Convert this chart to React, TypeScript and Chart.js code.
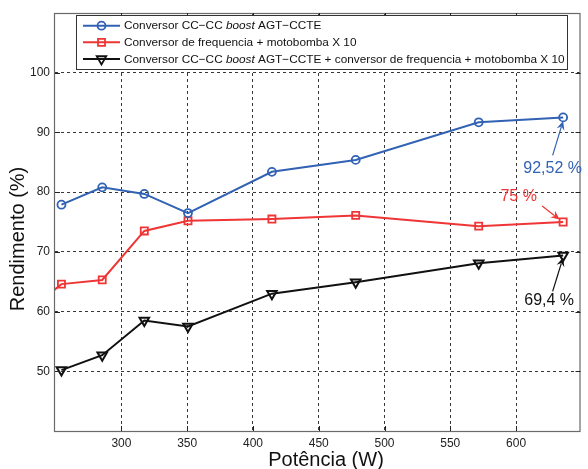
import React, { useEffect, useRef } from "react";
import { Chart, registerables } from "chart.js";

Chart.register(...registerables);

// ---- data ----
const potencia = [254.4, 285.4, 317.4, 350.6, 414.4, 478.1, 571.6, 635.8];
const potenciaConversor = [240, 254.4, 285.4, 317.4, 350.6, 414.4, 478.1, 571.6, 635.8];
const rendBoost = [77.9, 80.8, 79.7, 76.5, 83.4, 85.4, 91.7, 92.52];
const rendConversor = [62.0, 64.6, 65.3, 73.5, 75.2, 75.5, 76.1, 74.3, 75.0];
const rendTotal = [50.2, 52.7, 58.5, 57.5, 63.0, 64.9, 68.1, 69.4];

const xTicks = [300, 350, 400, 450, 500, 550, 600];
const yTicks = [50, 60, 70, 80, 90, 100];

const legendLabels = [
  ["Conversor CC\u2212CC ", "boost", " AGT\u2212CCTE"],
  ["Conversor de frequencia + motobomba X 10", "", ""],
  ["Conversor CC\u2212CC ", "boost", " AGT\u2212CCTE + conversor de frequencia + motobomba X 10"],
];
const annotationTexts = ["92,52 %", "75 %", "69,4 %"];

const BLUE = "#3262b4";
const RED = "#ef3535";
const BLACK = "#111111";
const FONT = "'Liberation Sans', Arial, Helvetica, sans-serif";

function drawMarker(ctx: CanvasRenderingContext2D, kind: string, x: number, y: number, color: string) {
  ctx.save();
  ctx.strokeStyle = color;
  ctx.lineWidth = 1.8;
  ctx.beginPath();
  if (kind === "circle") {
    ctx.arc(x, y, 4, 0, Math.PI * 2);
  } else if (kind === "rect") {
    ctx.rect(x - 3.5, y - 3.5, 7, 7);
  } else {
    const r = 5.5;
    ctx.moveTo(x, y + r);
    ctx.lineTo(x - r * 0.866, y - r * 0.5);
    ctx.lineTo(x + r * 0.866, y - r * 0.5);
    ctx.closePath();
  }
  ctx.stroke();
  ctx.restore();
}

function drawArrow(ctx: CanvasRenderingContext2D, x1: number, y1: number, x2: number, y2: number, color: string) {
  const ang = Math.atan2(y2 - y1, x2 - x1);
  const len = 9;
  const half = 4;
  ctx.save();
  ctx.strokeStyle = color;
  ctx.fillStyle = color;
  ctx.lineWidth = 1.2;
  ctx.beginPath();
  ctx.moveTo(x1, y1);
  ctx.lineTo(x2 - Math.cos(ang) * len * 0.7, y2 - Math.sin(ang) * len * 0.7);
  ctx.stroke();
  const bx = x2 - Math.cos(ang) * len;
  const by = y2 - Math.sin(ang) * len;
  const nx = -Math.sin(ang);
  const ny = Math.cos(ang);
  const mx = x2 - Math.cos(ang) * len * 0.65;
  const my = y2 - Math.sin(ang) * len * 0.65;
  ctx.beginPath();
  ctx.moveTo(x2, y2);
  ctx.lineTo(bx + nx * half, by + ny * half);
  ctx.lineTo(mx, my);
  ctx.lineTo(bx - nx * half, by - ny * half);
  ctx.closePath();
  ctx.fill();
  ctx.restore();
}

const overlayPlugin = {
  id: "overlay",
  afterDraw(chart: any) {
    const ctx: CanvasRenderingContext2D = chart.ctx;
    const { left, right, top, bottom } = chart.chartArea;
    const xs = chart.scales.x;
    const ys = chart.scales.y;

    // frame
    ctx.save();
    ctx.strokeStyle = "#6a6a6a";
    ctx.lineWidth = 1.2;
    ctx.strokeRect(left - 0.5, top + 0.5, right - left, bottom - top);
    // inward ticks
    ctx.strokeStyle = "#222";
    ctx.lineWidth = 1;
    ctx.beginPath();
    xTicks.forEach((v) => {
      const px = Math.round(xs.getPixelForValue(v)) + 0.5;
      ctx.moveTo(px, top);
      ctx.lineTo(px, top + 5);
      ctx.moveTo(px, bottom);
      ctx.lineTo(px, bottom - 5);
    });
    yTicks.forEach((v) => {
      const py = Math.round(ys.getPixelForValue(v)) + 0.5;
      ctx.moveTo(left, py);
      ctx.lineTo(left + 5, py);
      ctx.moveTo(right, py);
      ctx.lineTo(right - 5, py);
    });
    ctx.stroke();
    ctx.restore();

    // annotations
    const n = potencia.length - 1;
    const lx = xs.getPixelForValue(potencia[n]);
    const pB = ys.getPixelForValue(rendBoost[n]);
    const pR = ys.getPixelForValue(rendConversor[rendConversor.length - 1]);
    const pK = ys.getPixelForValue(rendTotal[n]);
    ctx.save();
    ctx.font = `16px ${FONT}`;
    ctx.textAlign = "center";
    ctx.textBaseline = "middle";
    ctx.fillStyle = BLUE;
    ctx.fillText(annotationTexts[0], lx - 10.5, pB + 51);
    drawArrow(ctx, lx - 10.5, pB + 38, lx, pB + 3.5, BLUE);
    ctx.fillStyle = RED;
    ctx.fillText(annotationTexts[1], lx - 44.5, pR - 25);
    drawArrow(ctx, lx - 21, pR - 16, lx - 3.5, pR - 2.5, RED);
    ctx.fillStyle = BLACK;
    ctx.fillText(annotationTexts[2], lx - 14, pK + 45.5);
    drawArrow(ctx, lx - 10.5, pK + 36, lx, pK + 2, BLACK);
    ctx.restore();

    // legend
    const bx = 76, by = 15, bw = 491, bh = 54;
    ctx.save();
    ctx.fillStyle = "#ffffff";
    ctx.fillRect(bx, by, bw, bh);
    ctx.strokeStyle = "#333";
    ctx.lineWidth = 1;
    ctx.strokeRect(bx + 0.5, by + 0.5, bw, bh);
    const colors = [BLUE, RED, BLACK];
    const kinds = ["circle", "rect", "tri"];
    const rowsY = [25.7, 42.3, 59];
    ctx.textBaseline = "middle";
    ctx.fillStyle = "#111";
    rowsY.forEach((ry, i) => {
      ctx.strokeStyle = colors[i];
      ctx.lineWidth = 2;
      ctx.beginPath();
      ctx.moveTo(83, ry);
      ctx.lineTo(120, ry);
      ctx.stroke();
      drawMarker(ctx, kinds[i], 101.5, ry, colors[i]);
      let tx = 124;
      const parts = legendLabels[i];
      ctx.fillStyle = "#111";
      ctx.textAlign = "left";
      ctx.font = `11.8px ${FONT}`;
      ctx.fillText(parts[0], tx, ry + 0.5);
      tx += ctx.measureText(parts[0]).width;
      if (parts[1]) {
        ctx.font = `italic 11.8px ${FONT}`;
        ctx.fillText(parts[1], tx, ry + 0.5);
        tx += ctx.measureText(parts[1]).width;
        ctx.font = `11.8px ${FONT}`;
        ctx.fillText(parts[2], tx, ry + 0.5);
      }
    });
    ctx.restore();

    // axis titles
    ctx.save();
    ctx.fillStyle = "#111";
    ctx.font = `20px ${FONT}`;
    ctx.textAlign = "center";
    ctx.textBaseline = "alphabetic";
    ctx.fillText("Pot\u00eancia (W)", 326, 466);
    ctx.translate(24, 239);
    ctx.rotate(-Math.PI / 2);
    ctx.fillText("Rendimento (%)", 0, 0);
    ctx.restore();
  },
};

export default function App() {
  const ref = useRef<HTMLCanvasElement | null>(null);

  useEffect(() => {
    if (!ref.current) return;
    Chart.defaults.font.family = FONT;
    const chart = new Chart(ref.current, {
      type: "line",
      data: {
        datasets: [
          {
            label: "boost",
            data: potencia.map((x, i) => ({ x, y: rendBoost[i] })),
            borderColor: BLUE,
            borderWidth: 2,
            pointStyle: "circle",
            pointRadius: 4,
            pointBorderWidth: 1.8,
            pointBackgroundColor: "rgba(0,0,0,0)",
            pointBorderColor: BLUE,
          },
          {
            label: "conversor",
            data: potenciaConversor.map((x, i) => ({ x, y: rendConversor[i] })),
            borderColor: RED,
            borderWidth: 2,
            pointStyle: "rect",
            pointRadius: 5,
            pointBorderWidth: 1.8,
            pointBackgroundColor: "rgba(0,0,0,0)",
            pointBorderColor: RED,
          },
          {
            label: "total",
            data: potencia.map((x, i) => ({ x, y: rendTotal[i] })),
            borderColor: BLACK,
            borderWidth: 2,
            pointStyle: "triangle",
            pointRotation: 180,
            pointRadius: 5.5,
            pointBorderWidth: 2,
            pointBackgroundColor: "rgba(0,0,0,0)",
            pointBorderColor: BLACK,
          },
        ],
      },
      options: {
        animation: false,
        responsive: false,
        devicePixelRatio: 1,
        layout: { padding: { top: 13, right: 4, left: 0, bottom: 0 } },
        plugins: { legend: { display: false }, tooltip: { enabled: false } },
        scales: {
          x: {
            type: "linear",
            min: 249.5,
            max: 649,
            afterFit: (s: any) => {
              s.height = 38;
            },
            afterBuildTicks: (s: any) => {
              s.ticks = xTicks.map((v) => ({ value: v }));
            },
            ticks: {
              font: { size: 12, family: FONT },
              color: "#222",
              padding: 5,
              maxRotation: 0,
              autoSkip: false,
            },
            grid: { color: "#222", lineWidth: 0.9, drawTicks: false },
            border: { display: false, dash: [3, 3] },
          },
          y: {
            type: "linear",
            min: 40,
            max: 110,
            afterFit: (s: any) => {
              s.width = 55;
            },
            afterBuildTicks: (s: any) => {
              s.ticks = yTicks.map((v) => ({ value: v }));
            },
            ticks: {
              font: { size: 12, family: FONT },
              color: "#222",
              padding: 5,
              autoSkip: false,
            },
            grid: { color: "#222", lineWidth: 0.9, drawTicks: false },
            border: { display: false, dash: [3, 3] },
          },
        },
      },
      plugins: [overlayPlugin],
    });
    return () => chart.destroy();
  }, []);

  return (
    <div style={{ position: "absolute", left: 0, top: 0, width: 588, height: 469, background: "#fff" }}>
      <canvas ref={ref} width={588} height={469} style={{ display: "block" }} />
    </div>
  );
}
